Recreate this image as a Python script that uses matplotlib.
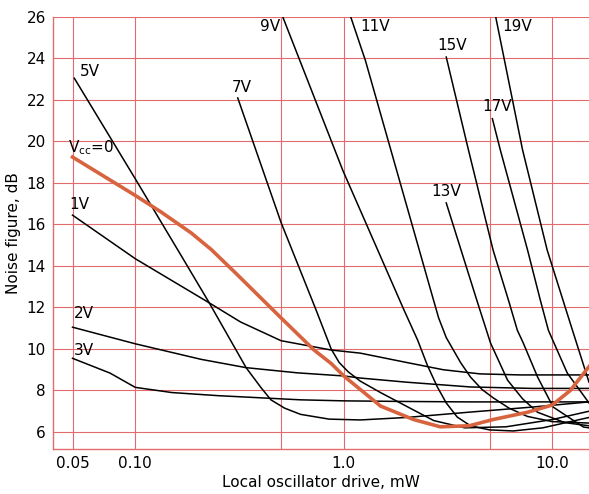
import matplotlib
matplotlib.use("Agg")
import matplotlib.pyplot as plt

# noise figure curves (drive in mW, noise figure in dB)
vcc0_x = [0.05, 0.10, 0.133, 0.185, 0.231, 0.30, 0.5, 0.72, 0.87, 1.0, 1.5, 2.16, 2.9, 4.0, 5.2, 7.6, 10, 12.2, 15]
vcc0_y = [19.25, 17.4, 16.6, 15.6, 14.8, 13.7, 11.5, 9.95, 9.3, 8.7, 7.25, 6.6, 6.25, 6.3, 6.6, 6.95, 7.3, 8.0, 9.15]

v1_x = [0.05, 0.10, 0.224, 0.32, 0.5, 0.87, 1.2, 2.0, 3.0, 4.5, 7, 10, 15]
v1_y = [16.45, 14.35, 12.25, 11.3, 10.4, 9.95, 9.8, 9.35, 9.0, 8.8, 8.75, 8.75, 8.75]

v2_x = [0.05, 0.10, 0.207, 0.34, 0.6, 1.0, 1.2, 2.0, 4.05, 8, 15]
v2_y = [11.05, 10.25, 9.5, 9.1, 8.85, 8.7, 8.6, 8.4, 8.17, 8.1, 8.1]

v3_x = [0.05, 0.0756, 0.10, 0.15, 0.25, 0.62, 1.0, 2, 4, 15]
v3_y = [9.55, 8.84, 8.15, 7.9, 7.75, 7.55, 7.5, 7.47, 7.45, 7.45]

v5_x = [0.051, 0.10, 0.166, 0.224, 0.34, 0.40, 0.447, 0.52, 0.62, 0.85, 1.2, 2, 4.05, 8, 15]
v5_y = [23.05, 18.2, 14.5, 12.3, 9.1, 8.15, 7.55, 7.15, 6.85, 6.62, 6.58, 6.7, 6.96, 7.2, 7.45]

v7_x = [0.31, 0.5, 0.735, 0.87, 0.95, 1.05, 1.2, 1.5, 2.16, 2.7, 3.8, 6, 10, 15]
v7_y = [22.1, 16.1, 11.9, 10.0, 9.35, 8.9, 8.45, 7.9, 7.06, 6.55, 6.2, 6.25, 6.6, 7.0]

v9_x = [0.51, 0.99, 1.94, 2.26, 2.52, 2.81, 3.1, 3.5, 4.05, 5, 6.5, 9, 15]
v9_y = [26.0, 18.6, 11.9, 10.43, 9.2, 8.17, 7.4, 6.72, 6.3, 6.1, 6.05, 6.2, 6.7]

v11_x = [1.08, 1.27, 2.61, 2.85, 3.1, 3.63, 4.05, 4.6, 5.2, 6.2, 7.6, 10, 15]
v11_y = [26.0, 23.9, 12.84, 11.5, 10.55, 9.35, 8.65, 8.05, 7.65, 7.15, 6.75, 6.5, 6.43]

v13_x = [3.1, 4.33, 5.05, 6.1, 7.2, 8.5, 11.5, 15]
v13_y = [17.04, 12.4, 10.3, 8.5, 7.6, 6.95, 6.45, 6.3]

v15_x = [3.1, 3.96, 5.2, 6.16, 6.8, 7.25, 8.5, 10.1, 14.1, 15]
v15_y = [24.07, 19.6, 14.77, 12.36, 10.9, 10.3, 8.65, 7.2, 6.24, 6.2]

v17_x = [5.16, 5.63, 7.61, 8.76, 9.58, 11.8, 15]
v17_y = [21.1, 19.6, 14.77, 12.36, 10.9, 8.84, 7.4]

v19_x = [5.33, 7.2, 9.45, 12.5, 15]
v19_y = [26.1, 19.6, 14.77, 10.9, 8.4]

black_curves = [(v1_x, v1_y), (v2_x, v2_y), (v3_x, v3_y), (v5_x, v5_y),
                (v7_x, v7_y), (v9_x, v9_y), (v11_x, v11_y), (v13_x, v13_y),
                (v15_x, v15_y), (v17_x, v17_y), (v19_x, v19_y)]

# curve labels and where they sit
labels = ["5V", "1V", "2V", "3V", "7V", "9V", "11V", "15V", "19V", "17V", "13V"]
label_x = [0.0603, 0.0485, 0.0505, 0.0505, 0.325, 0.442, 1.42, 3.32, 6.8, 5.46, 3.11]
label_y = [23.35, 16.94, 11.69, 9.95, 22.58, 25.52, 25.52, 24.65, 25.52, 21.71, 17.57]
label_ha = ["center", "left", "left", "left", "center", "center", "center", "center",
            "center", "center", "center"]

x_ticks = [0.05, 0.1, 0.5, 1, 5, 10]
x_ticklabels = ["0.05", "0.10", "", "1.0", "", "10.0"]
y_ticks = list(range(6, 27, 2))

grid_red = "#e46b6b"
curve_red = "#d8643f"

fig = plt.figure(figsize=(5.89, 4.94), dpi=100)
ax = fig.add_axes([53 / 589, 45 / 494, 1 - 53 / 589, 432 / 494])

ax.set_xscale("log")
ax.set_xlim(0.0403, 15.0)
ax.set_ylim(5.18, 26.0)

ax.set_xticks(x_ticks)
ax.set_xticklabels(x_ticklabels)
ax.minorticks_off()
ax.set_yticks(y_ticks)
ax.tick_params(length=0, labelsize=11)
ax.tick_params(axis="x", pad=5)
ax.tick_params(axis="y", pad=5)
ax.grid(True, color=grid_red, linewidth=0.8)

for side in ["top", "right"]:
    ax.spines[side].set_visible(False)
for side in ["left", "bottom"]:
    ax.spines[side].set_color(grid_red)
    ax.spines[side].set_linewidth(1.0)

for xs, ys in black_curves:
    ax.plot(xs, ys, color="black", linewidth=1.1, zorder=3)
ax.plot(vcc0_x, vcc0_y, color=curve_red, linewidth=2.6, zorder=4)

for t, lx, ly, ha in zip(labels, label_x, label_y, label_ha):
    ax.text(lx, ly, t, ha=ha, va="center", fontsize=11, zorder=5)
ax.text(0.0478, 19.69, r"V$_{\mathregular{cc}}$=0", ha="left", va="center", fontsize=11, zorder=5)

ax.set_xlabel("Local oscillator drive, mW", fontsize=11, labelpad=3)
ax.set_ylabel("Noise figure, dB", fontsize=11, labelpad=4)

fig.savefig("out.png", dpi=100)
